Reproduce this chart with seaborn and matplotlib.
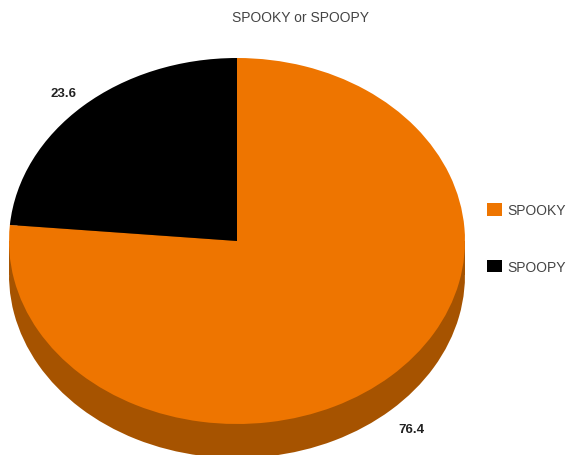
import matplotlib
matplotlib.use("Agg")
import matplotlib.pyplot as plt
import seaborn as sns
from matplotlib.patches import Rectangle

# ---- data ----
categories = ["SPOOKY", "SPOOPY"]
values = [76.4, 23.6]
title = "SPOOKY or SPOOPY"

# ---- style ----
sns.set_theme(style="white")
plt.rcParams["font.family"] = ["Liberation Sans", "DejaVu Sans"]
top_colors = ["#EE7500", "#000000"]
side_color = "#A65300"
text_gray = "#444444"

W, H = 567, 456
fig = plt.figure(figsize=(W / 100, H / 100), dpi=100)

# pie ellipse geometry in pixels (top face)
cx, cy, rx, ry = 237, 242, 228, 183
depth_px = 34
depth = depth_px / ry
label_drop = 5 / ry

left = (cx - rx) / W
width = 2 * rx / W
top_px = cy - ry
bottom_px = cy + ry + depth_px
ax = fig.add_axes([left, 1 - bottom_px / H, width, (bottom_px - top_px) / H])

# side (extruded body) of the pie
ax.pie(values, colors=[side_color] * len(values), startangle=90,
       counterclock=False, center=(0, -depth),
       wedgeprops=dict(linewidth=0))
ax.add_patch(Rectangle((-1, -depth), 2, depth, facecolor=side_color,
                       linewidth=0, zorder=0.5))

# top face
wedges, texts = ax.pie(values, colors=top_colors, startangle=90,
                       counterclock=False, labels=[f"{v}" for v in values],
                       labeldistance=1.13,
                       wedgeprops=dict(linewidth=0),
                       textprops=dict(fontsize=9.5, fontweight="bold",
                                      color="#222222"))
for t in texts:
    x, y = t.get_position()
    y -= label_drop
    if y < 0:
        y -= depth_px * 0.9 / ry
    t.set_position((x, y))
    t.set_ha("center")
    t.set_va("center")

ax.set_aspect("auto")
ax.set_xlim(-1, 1)
ax.set_ylim(-1 - depth, 1)
ax.set_axis_off()

fig.text(300 / W, 1 - 18 / H, title, ha="center", va="center",
         fontsize=10, color=text_gray)

fig.legend(wedges, categories, loc="upper left",
           bbox_to_anchor=(487 / W, 1 - 204 / H), frameon=False,
           borderpad=0, borderaxespad=0, handlelength=1.05, handleheight=1.05,
           handletextpad=0.4, labelspacing=3.05, fontsize=10,
           labelcolor=text_gray)

fig.savefig("out.png", dpi=100)
